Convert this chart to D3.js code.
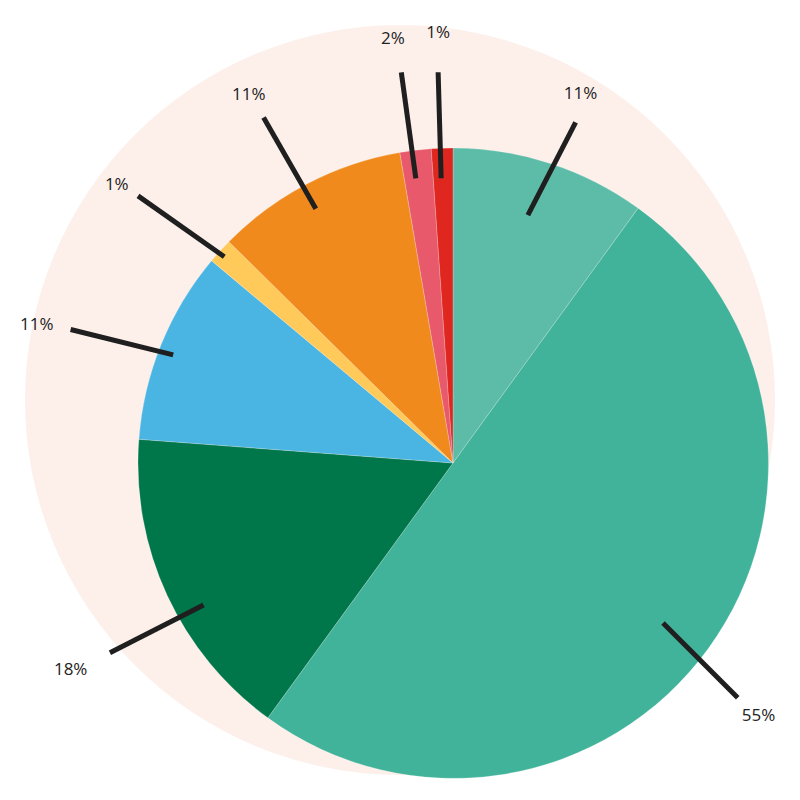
<!DOCTYPE html>
<html><head><meta charset="utf-8">
<script src="https://cdn.jsdelivr.net/npm/d3@7"></script>
<style>html,body{margin:0;padding:0;background:#fff;}svg{display:block;}</style>
</head><body>
<svg id="chart" width="800" height="800"></svg>
<script>
// Data
const categories = ["A","B","C","D","E","F","G","H"];
const values = [10, 50, 16.2, 9.9, 1.3, 9.9, 1.6, 1.1];
const labels = ["11%","55%","18%","11%","1%","11%","2%","1%"];
const colors = ["#5dbca8","#41b39a","#00774a","#4ab5e2","#ffca5a","#f08a1d","#e85a6b","#e0271f"];

// Layout (leader lines & labels): radii and angle offsets (degrees) from slice mid-angle
const leaderStartR = [259, 264, 287, 300, 308, 289, 287, 285];
const leaderEndR   = [362, 369, 392, 405, 413, 394, 394, 391];
const startNudge   = [-1.2, 1.3, -4.8, -1.0, -0.25, -0.8, -0.6, -0.4];
const endNudge     = [1.8, 3.5, -4.1, -2.9, -2.0, -1.2, -0.7, -0.2];
const labelR       = [392, 396, 434, 439, 437, 422, 430, 432];
const labelNudge   = [1.0, 3.5, -3.4, -3.6, -2.6, -1.4, -1.2, 0];

const svg = d3.select("#chart");
svg.append("circle").attr("cx",400).attr("cy",400).attr("r",375).attr("fill","#fdf0eb");

const cx = 453, cy = 463, R = 315;
const g = svg.append("g").attr("transform",`translate(${cx},${cy})`);
const pie = d3.pie().sort(null).value(d=>d.v);
const data = categories.map((c,i)=>({c, v:values[i], label:labels[i], color:colors[i], i}));
const arcs = pie(data);
const arc = d3.arc().innerRadius(0).outerRadius(R);

g.selectAll("path.slice").data(arcs).join("path")
  .attr("class","slice").attr("d",arc)
  .attr("fill",d=>d.data.color)
  .attr("stroke","rgba(255,255,255,0.35)").attr("stroke-width",0.6);

const deg = Math.PI/180;
const pt = (a, r) => [Math.sin(a)*r, -Math.cos(a)*r];
arcs.forEach((d,i)=>{
  const m = (d.startAngle + d.endAngle)/2;
  const p1 = pt(m + startNudge[i]*deg, leaderStartR[i]);
  const p2 = pt(m + endNudge[i]*deg, leaderEndR[i]);
  const pl = pt(m + labelNudge[i]*deg, labelR[i]);
  g.append("line").attr("x1",p1[0]).attr("y1",p1[1]).attr("x2",p2[0]).attr("y2",p2[1])
    .attr("stroke","#1f1f1f").attr("stroke-width",5);
  g.append("text").attr("x",pl[0]).attr("y",pl[1])
    .attr("text-anchor","middle").attr("dominant-baseline","central")
    .attr("font-family","'Open Sans', sans-serif").attr("font-size",17)
    .attr("fill","#222").text(d.data.label);
});
</script>
</body></html>
